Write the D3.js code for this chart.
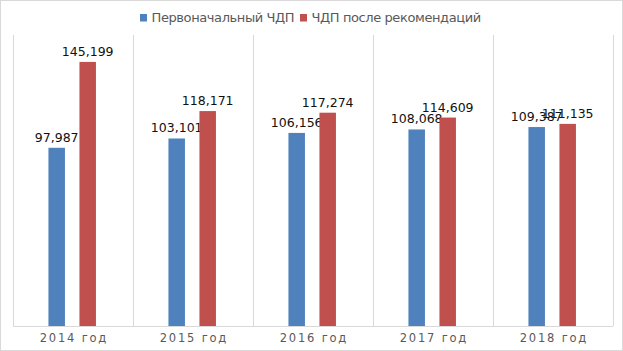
<!DOCTYPE html>
<html>
<head>
<meta charset="utf-8">
<script src="https://cdn.jsdelivr.net/npm/d3@7"></script>
<style>
	body { margin: 0; background: #fff; }
	svg { display: block; font-family: "DejaVu Sans", sans-serif; }
</style>
</head>
<body>
<div id="chart"></div>
<script>
"use strict";

// chart data
var years = ["2014 год", "2015 год", "2016 год", "2017 год", "2018 год"];
var seriesNames = ["Первоначальный ЧДП", "ЧДП после рекомендаций"];
var initialNpv = [97.987, 103.101, 106.156, 108.068, 109.387];
var recommendedNpv = [145.199, 118.171, 117.274, 114.609, 111.135];
var colors = ["#4f81bd", "#c0504d"];

var width = 623;
var height = 351;
var plot = {left: 13, right: 613, top: 35, bottom: 326};

var svg = d3.select("#chart").append("svg")
	.attr("width", width)
	.attr("height", height);

// outer frame
svg.append("rect")
	.attr("x", 0.5).attr("y", 0.5)
	.attr("width", width - 1).attr("height", height - 1)
	.attr("fill", "#fff")
	.attr("stroke", "#d9d9d9");

var scaleX = d3.scaleBand()
	.domain(years)
	.range([plot.left, plot.right]);

var scaleY = d3.scaleLinear()
	.domain([0, 160])
	.range([plot.bottom, plot.top]);

// vertical category separators
var edges = years.map(function(d) { return scaleX(d); }).concat([plot.right]);
svg.selectAll("line.sep")
	.data(edges)
	.enter().append("line")
	.attr("class", "sep")
	.attr("x1", function(d) { return Math.round(d) + 0.5; })
	.attr("x2", function(d) { return Math.round(d) + 0.5; })
	.attr("y1", plot.top)
	.attr("y2", plot.bottom)
	.attr("stroke", "#d9d9d9");

var barWidth = 16.5;
var offsets = [-16.3, 14.7];
var series = [initialNpv, recommendedNpv];
var fmt = function(v) { return d3.format(".3f")(v).replace(".", ","); };

series.forEach(function(values, s) {
	var g = svg.append("g");
	var rows = values.map(function(v, i) { return {year: years[i], value: v}; });
	var cx = function(d) { return scaleX(d.year) + scaleX.bandwidth() / 2 + offsets[s]; };
	g.selectAll("rect")
		.data(rows)
		.enter().append("rect")
		.attr("x", function(d) { return cx(d) - barWidth / 2; })
		.attr("y", function(d) { return scaleY(d.value); })
		.attr("width", barWidth)
		.attr("height", function(d) { return plot.bottom - scaleY(d.value); })
		.attr("fill", colors[s]);
	g.selectAll("text")
		.data(rows)
		.enter().append("text")
		.attr("x", cx)
		.attr("y", function(d) { return scaleY(d.value) - 6; })
		.attr("text-anchor", "middle")
		.attr("font-size", 12.5)
		.attr("fill", "#111")
		.text(function(d) { return fmt(d.value); });
});

// baseline
svg.append("line")
	.attr("x1", plot.left).attr("x2", plot.right)
	.attr("y1", plot.bottom + 0.5).attr("y2", plot.bottom + 0.5)
	.attr("stroke", "#d9d9d9");

var xAxis = d3.axisBottom(scaleX).tickSize(0).tickPadding(7.5);
var gx = svg.append("g")
	.attr("transform", "translate(0," + plot.bottom + ")")
	.call(xAxis);
gx.select(".domain").remove();
gx.selectAll("text")
	.attr("font-size", 11.5)
	.attr("font-family", "DejaVu Sans, sans-serif")
	.attr("letter-spacing", "1.8px")
	.attr("dx", "0.9px")
	.attr("fill", "#595959");

// legend
var legend = svg.append("g");
var legendX = [140, 300];
seriesNames.forEach(function(name, i) {
	legend.append("rect")
		.attr("x", legendX[i]).attr("y", 14)
		.attr("width", 7).attr("height", 7.5)
		.attr("fill", colors[i]);
	legend.append("text")
		.attr("x", legendX[i] + 11.5).attr("y", 22.3)
		.attr("font-size", 13)
		.attr("letter-spacing", "-0.4px")
		.attr("fill", "#595959")
		.text(name);
});
</script>
</body>
</html>
